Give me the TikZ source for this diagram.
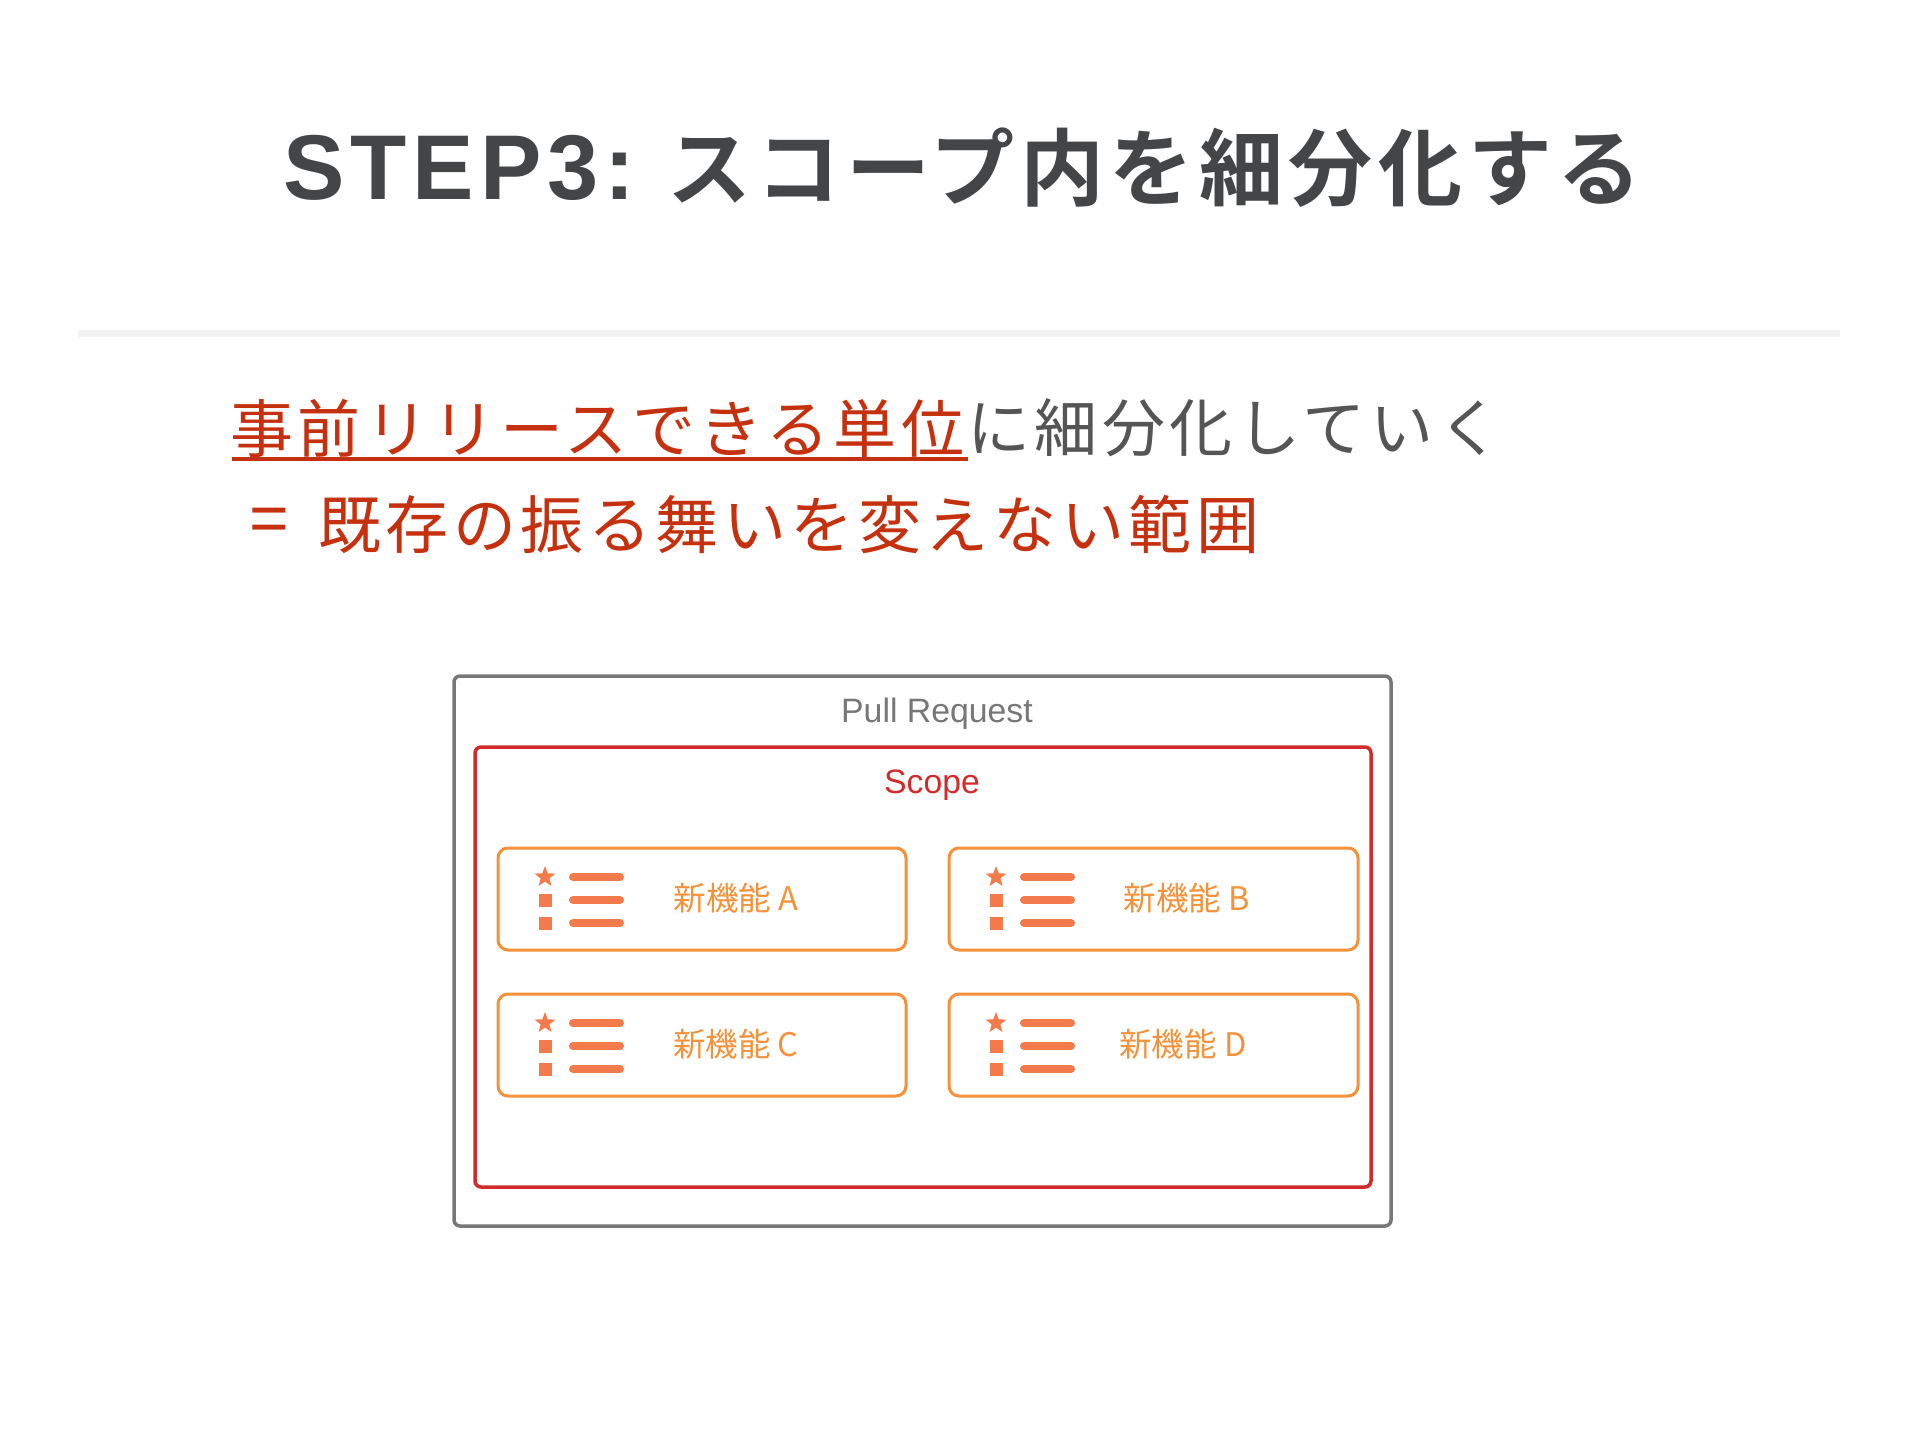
\documentclass[tikz,border=0pt]{standalone}
\usepackage{fontspec}
\usetikzlibrary{shapes.geometric}
\setmainfont{Liberation Sans}
\newfontfamily\cjkbold[LetterSpace=6.6]{Noto Sans CJK JP Bold}
\newfontfamily\latbold[LetterSpace=6.5]{Liberation Sans Bold}
\newfontfamily\cjkbody[LetterSpace=7.2]{Noto Sans CJK JP}
\newfontfamily\cjksmall{Noto Sans CJK JP}
\definecolor{titlegray}{HTML}{434546}
\definecolor{bodygray}{HTML}{555555}
\definecolor{accentred}{HTML}{C5310F}
\definecolor{rulegray}{HTML}{F3F3F3}
\definecolor{prgray}{HTML}{777777}
\definecolor{scopered}{HTML}{D42A2A}
\definecolor{featorange}{HTML}{F59138}
\definecolor{iconorange}{HTML}{F37B4B}
\tikzset{
  framebox/.style={rounded corners=6pt,fill=none,outer sep=0pt},
  featbox/.style={draw=featorange,line width=3pt,rounded corners=10pt,outer sep=0pt},
  featlabel/.style={anchor=center,text=featorange,font=\cjksmall\fontsize{32.5}{32.5}\selectfont,inner sep=0pt},
  bar/.style={draw=iconorange,line width=8pt,line cap=round},
  dot/.style={fill=iconorange,inner sep=0pt,minimum size=13pt,draw=none},
}
\begin{document}
\begin{tikzpicture}[x=1pt,y=-1pt]
\useasboundingbox[fill=white] (0,0) rectangle (1920,1440);
% title
\node[anchor=west,inner sep=0pt,text=titlegray,font=\latbold\fontsize{92}{92}\selectfont] (titlea) at (283,168) {STEP3:};
\node[anchor=west,inner sep=0pt,text=titlegray,font=\cjkbold\fontsize{84}{84}\selectfont] (titleb) at (667,168) {スコープ内を細分化する};
\draw[rulegray,line width=7pt] (78,333) -- (1840,333);
% body text
\node[anchor=west,inner sep=0pt,text=accentred,font=\cjkbody\fontsize{63}{63}\selectfont] (lineonea) at (230,428) {事前リリースできる単位};
\node[anchor=west,inner sep=0pt,text=bodygray,font=\cjkbody\fontsize{63}{63}\selectfont] (lineoneb) at (967,428) {に細分化していく};
\coordinate (ula) at (232,459);
\coordinate (ulb) at (968,459);
\draw[accentred,line width=4pt] (ula) -- (ulb);
\node[anchor=center,inner sep=0pt,text=accentred,font=\fontsize{68}{68}\selectfont] (lineeq) at (269,525) {=};
\node[anchor=west,inner sep=0pt,text=accentred,font=\cjkbody\fontsize{63}{63}\selectfont] (linetwo) at (318,524) {既存の振る舞いを変えない範囲};
% frames
\node[draw=prgray,line width=3.5pt,framebox,minimum width=937pt,minimum height=550pt,anchor=north west,inner sep=0pt] (pr) at (454,676) {};
\node[anchor=center,inner sep=0pt,text=prgray,font=\fontsize{33.8}{33.8}\selectfont] (prlabel) at (937,714) {Pull Request};
\node[draw=scopered,line width=3.5pt,framebox,minimum width=896pt,minimum height=440pt,anchor=north west,inner sep=0pt] (scope) at (475,747) {};
\node[anchor=center,inner sep=0pt,text=scopered,font=\fontsize{33.8}{33.8}\selectfont] (scopelabel) at (932,785) {Scope};
% feature cards
\foreach \nm/\lx/\ly/\cardw in {a/498/848/408,b/949/848/409,c/498/994/408,d/949/994/409}{
  \node[featbox,minimum width=\cardw pt,minimum height=102pt,anchor=north west,inner sep=0pt] (box\nm) at (\lx,\ly) {};
  \node[star,star points=5,star point ratio=2.4,fill=iconorange,inner sep=0pt,minimum size=22pt] (star\nm) at (\lx+47,\ly+29) {};
  \node[dot] (sqa\nm) at (\lx+47,\ly+52) {};
  \node[dot] (sqb\nm) at (\lx+47,\ly+75) {};
  \coordinate (ba\nm) at (\lx+75,\ly+29);
  \coordinate (bb\nm) at (\lx+122,\ly+29);
  \coordinate (ca\nm) at (\lx+75,\ly+52);
  \coordinate (cb\nm) at (\lx+122,\ly+52);
  \coordinate (da\nm) at (\lx+75,\ly+75);
  \coordinate (db\nm) at (\lx+122,\ly+75);
  \draw[bar] (ba\nm) -- (bb\nm);
  \draw[bar] (ca\nm) -- (cb\nm);
  \draw[bar] (da\nm) -- (db\nm);
}
\node[featlabel] (la) at (736,898) {新機能 A};
\node[featlabel] (lb) at (1187,898) {新機能 B};
\node[featlabel] (lc) at (736,1044) {新機能 C};
\node[featlabel] (ld) at (1183,1044) {新機能 D};
\end{tikzpicture}
\end{document}
